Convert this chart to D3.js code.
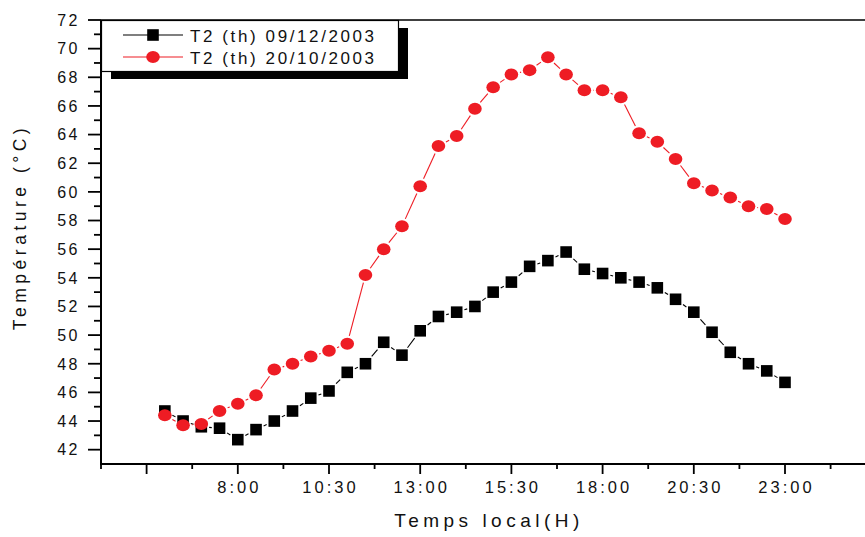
<!DOCTYPE html>
<html>
<head>
<meta charset="utf-8">
<script src="https://cdn.jsdelivr.net/npm/d3@7"></script>
<style>
  html, body { margin: 0; padding: 0; background: #fff; }
  svg { display: block; font-family: "Liberation Sans", Arial, sans-serif; }
</style>
</head>
<body>
<svg id="chart" width="865" height="537"></svg>
<script>
// Local time of each reading (half-hourly)
const times = ["6:00","6:30","7:00","7:30","8:00","8:30","9:00","9:30","10:00","10:30",
  "11:00","11:30","12:00","12:30","13:00","13:30","14:00","14:30","15:00","15:30",
  "16:00","16:30","17:00","17:30","18:00","18:30","19:00","19:30","20:00","20:30",
  "21:00","21:30","22:00","22:30","23:00"];

// T2 (th) on 09/12/2003, °C
const t2Dec = [44.7,44.0,43.6,43.5,42.7,43.4,44.0,44.7,45.6,46.1,
  47.4,48.0,49.5,48.6,50.3,51.3,51.6,52.0,53.0,53.7,
  54.8,55.2,55.8,54.6,54.3,54.0,53.7,53.3,52.5,51.6,
  50.2,48.8,48.0,47.5,46.7];

// T2 (th) on 20/10/2003, °C
const t2Oct = [44.4,43.7,43.8,44.7,45.2,45.8,47.6,48.0,48.5,48.9,
  49.4,54.2,56.0,57.6,60.4,63.2,63.9,65.8,67.3,68.2,
  68.5,69.4,68.2,67.1,67.1,66.6,64.1,63.5,62.3,60.6,
  60.1,59.6,59.0,58.8,58.1];

const seriesNames = ["T2 (th) 09/12/2003", "T2 (th) 20/10/2003"];
const xTickLabels = ["8:00","10:30","13:00","15:30","18:00","20:30","23:00"];
const yTickLabels = ["42","44","46","48","50","52","54","56","58","60","62","64","66","68","70","72"];

const toHours = s => { const [h, m] = s.split(":").map(Number); return h + m / 60; };

const svg = d3.select("#chart");
const plotLeft = 101, plotTop = 20, plotBottom = 464;

const x = d3.scaleLinear().domain([4.25, 25.5]).range([plotLeft, plotLeft + 21.25 * 36.48]);
const y = d3.scaleLinear().domain([41, 72]).range([plotBottom, plotTop]);

// frame: top edge
svg.append("line").attr("x1", plotLeft).attr("x2", 865).attr("y1", plotTop).attr("y2", plotTop)
  .attr("stroke", "#000").attr("stroke-width", 1.5);

// Y axis
const yMajor = yTickLabels.map(Number);
const yMinor = d3.range(43, 72, 2);
const yAxis = svg.append("g");
yAxis.append("line").attr("x1", plotLeft).attr("x2", plotLeft).attr("y1", plotTop).attr("y2", plotBottom)
  .attr("stroke", "#000").attr("stroke-width", 2);
yAxis.selectAll(".ymaj").data(yMajor).join("line")
  .attr("x1", plotLeft - 13).attr("x2", plotLeft).attr("y1", d => y(d)).attr("y2", d => y(d))
  .attr("stroke", "#000").attr("stroke-width", 1.8);
yAxis.selectAll(".ymin").data(yMinor).join("line")
  .attr("x1", plotLeft - 7).attr("x2", plotLeft).attr("y1", d => y(d)).attr("y2", d => y(d))
  .attr("stroke", "#000").attr("stroke-width", 1.8);
yAxis.selectAll("text").data(yTickLabels).join("text")
  .attr("x", 80).attr("y", d => y(+d) + 5.8)
  .attr("text-anchor", "end")
  .attr("font-size", 16).attr("letter-spacing", 2.5).attr("fill", "#111")
  .text(d => d);

// X axis
const xMajor = [5.5, 8, 10.5, 13, 15.5, 18, 20.5, 23, 25.5];
const xMinor = [4.25, 6.75, 9.25, 11.75, 14.25, 16.75, 19.25, 21.75, 24.25];
const xAxis = svg.append("g");
xAxis.append("line").attr("x1", plotLeft - 1).attr("x2", 865).attr("y1", plotBottom).attr("y2", plotBottom)
  .attr("stroke", "#000").attr("stroke-width", 2);
xAxis.selectAll(".xmaj").data(xMajor).join("line")
  .attr("x1", d => x(d)).attr("x2", d => x(d)).attr("y1", plotBottom).attr("y2", plotBottom + 10)
  .attr("stroke", "#000").attr("stroke-width", 1.8);
xAxis.selectAll(".xmin").data(xMinor).join("line")
  .attr("x1", d => x(d)).attr("x2", d => x(d)).attr("y1", plotBottom).attr("y2", plotBottom + 5)
  .attr("stroke", "#000").attr("stroke-width", 1.8);
xAxis.selectAll("text").data(xTickLabels).join("text")
  .attr("x", d => x(toHours(d)) + 1.5).attr("y", 493)
  .attr("text-anchor", "middle")
  .attr("font-size", 16.5).attr("letter-spacing", 3).attr("fill", "#111")
  .text(d => d);

// Axis titles
svg.append("text").attr("x", 489).attr("y", 527).attr("text-anchor", "middle")
  .attr("font-size", 19).attr("letter-spacing", 4.5).attr("fill", "#111")
  .text("Temps local(H)");
svg.append("text").attr("transform", "translate(26,227) rotate(-90)")
  .attr("text-anchor", "middle")
  .attr("font-size", 17.5).attr("letter-spacing", 4.5).attr("fill", "#111")
  .text("Température (°C)");

// Connecting segments stop short of each marker, leaving a small gap
function gappedSegments(g, pts, color, reach) {
  for (let i = 0; i < pts.length - 1; i++) {
    const [x0, y0] = pts[i], [x1, y1] = pts[i + 1];
    const dx = x1 - x0, dy = y1 - y0, len = Math.hypot(dx, dy);
    const ux = dx / len, uy = dy / len;
    const r = reach(ux, uy) + 2;
    if (len <= 2 * r) continue;
    g.append("line")
      .attr("x1", x0 + ux * r).attr("y1", y0 + uy * r)
      .attr("x2", x1 - ux * r).attr("y2", y1 - uy * r)
      .attr("stroke", color).attr("stroke-width", 1.1);
  }
}

const red = "#ee1c24";
const sq = 5.8, rx = 6.8, ry = 6;
const squareReach = (ux, uy) => sq / Math.max(Math.abs(ux), Math.abs(uy));
const ellipseReach = (ux, uy) => 1 / Math.sqrt((ux / rx) ** 2 + (uy / ry) ** 2);

const ptsDec = times.map((t, i) => [x(toHours(t)), y(t2Dec[i])]);
const ptsOct = times.map((t, i) => [x(toHours(t)), y(t2Oct[i])]);

const gDec = svg.append("g");
gappedSegments(gDec, ptsDec, "#000", squareReach);
gDec.selectAll("rect").data(ptsDec).join("rect")
  .attr("x", d => d[0] - sq).attr("y", d => d[1] - sq)
  .attr("width", 2 * sq).attr("height", 2 * sq).attr("fill", "#000");

const gOct = svg.append("g");
gappedSegments(gOct, ptsOct, red, ellipseReach);
gOct.selectAll("ellipse").data(ptsOct).join("ellipse")
  .attr("cx", d => d[0]).attr("cy", d => d[1])
  .attr("rx", rx).attr("ry", ry).attr("fill", red);

// Legend with drop shadow
const lg = svg.append("g");
lg.append("rect").attr("x", 111).attr("y", 28).attr("width", 297).attr("height", 51).attr("fill", "#000");
lg.append("rect").attr("x", 101.5).attr("y", 20.5).attr("width", 297).attr("height", 51)
  .attr("fill", "#fff").attr("stroke", "#000").attr("stroke-width", 1.2);
const rows = [
  { name: seriesNames[0], color: "#000", marker: "square", y: 35 },
  { name: seriesNames[1], color: red, marker: "circle", y: 57 }
];
rows.forEach(r => {
  lg.append("line").attr("x1", 123).attr("x2", 183).attr("y1", r.y).attr("y2", r.y)
    .attr("stroke", r.color).attr("stroke-width", 1.1);
  if (r.marker === "square") {
    lg.append("rect").attr("x", 153 - sq).attr("y", r.y - sq)
      .attr("width", 2 * sq).attr("height", 2 * sq).attr("fill", r.color);
  } else {
    lg.append("ellipse").attr("cx", 153).attr("cy", r.y).attr("rx", rx).attr("ry", ry).attr("fill", r.color);
  }
  lg.append("text").attr("x", 190).attr("y", r.y + 6.5)
    .attr("font-size", 17).attr("letter-spacing", 2.6).attr("fill", "#111")
    .text(r.name);
});
</script>
</body>
</html>
